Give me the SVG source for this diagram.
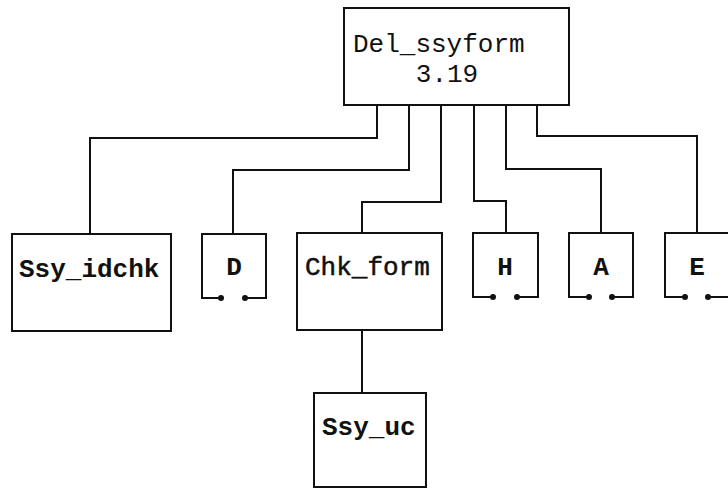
<svg xmlns="http://www.w3.org/2000/svg" width="728" height="489" viewBox="0 0 728 489">
<style>
.box{fill:#fff;stroke:#111;stroke-width:2}
.open{fill:none;stroke:#111;stroke-width:2}
.dot{fill:#111}
.conn{fill:none;stroke:#111;stroke-width:2}
text{font-family:"Liberation Mono","Courier New",monospace;font-size:26px;fill:#111}
.b{font-weight:bold}
.m{stroke:#111;stroke-width:0.5}
.c{text-anchor:middle}
</style>
<rect width="728" height="489" fill="#fff"/>
<g id="connectors">
<path class="conn" d="M377,105 V138 H90 V234"/>
<path class="conn" d="M409,105 V170 H233 V234"/>
<path class="conn" d="M441,105 V202 H362 V233"/>
<path class="conn" d="M474,105 V201 H506 V233"/>
<path class="conn" d="M506,105 V169 H601 V233"/>
<path class="conn" d="M537,105 V136 H697 V233"/>
<path class="conn" d="M362,330 V393"/>
</g>
<g id="del_ssyform">
<rect class="box" x="344" y="8" width="225" height="97"/>
<text x="353" y="52">Del_ssyform</text>
<text class="c" x="447" y="82">3.19</text>
</g>
<g id="ssy_idchk">
<rect class="box" x="12" y="234" width="159" height="97"/>
<text class="b" x="19" y="277">Ssy_idchk</text>
</g>
<g id="d">
<path class="open" d="M221,298 H202 V234 H266 V298 H245"/>
<circle class="dot" cx="221" cy="298" r="3"/>
<circle class="dot" cx="245" cy="298" r="3"/>
<text class="b c" x="234" y="275">D</text>
</g>
<g id="chk_form">
<rect class="box" x="297" y="233" width="145" height="97"/>
<text class="m" x="305" y="275">Chk_form</text>
</g>
<g id="h">
<path class="open" d="M493,297 H473 V233 H538 V297 H517"/>
<circle class="dot" cx="493" cy="297" r="3"/>
<circle class="dot" cx="517" cy="297" r="3"/>
<text class="b c" x="505" y="275">H</text>
</g>
<g id="a">
<path class="open" d="M589,297 H569 V233 H633 V297 H612"/>
<circle class="dot" cx="589" cy="297" r="3"/>
<circle class="dot" cx="612" cy="297" r="3"/>
<text class="b c" x="601" y="275">A</text>
</g>
<g id="e">
<path class="open" d="M685,297 H665 V233 H729 V297 H708"/>
<circle class="dot" cx="685" cy="297" r="3"/>
<circle class="dot" cx="708" cy="297" r="3"/>
<text class="b c" x="697" y="275">E</text>
</g>
<g id="ssy_uc">
<rect class="box" x="314" y="393" width="112" height="94"/>
<text class="b" x="322" y="435">Ssy_uc</text>
</g>
</svg>
